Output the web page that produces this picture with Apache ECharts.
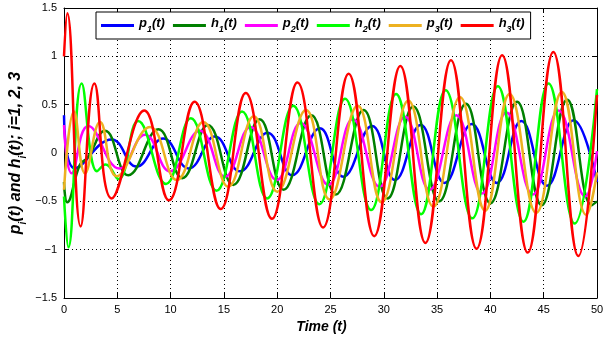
<!DOCTYPE html>
<html>
<head>
<meta charset="utf-8">
<script src="https://cdn.jsdelivr.net/npm/echarts@6/dist/echarts.min.js"></script>
<style>
  html, body { margin: 0; padding: 0; background: #fff; }
  #chart { width: 606px; height: 338px; }
</style>
</head>
<body>
<div id="chart"></div>
<script>
// values: [t, value] at peaks / troughs
const p1Data = [
  [0, 0.39], [1.03, -0.16], [4.47, 0.14], [6.8, -0.14], [9.3, 0.15], [11.7, -0.16],
  [14.16, 0.17], [16.5, -0.19], [19.1, 0.21], [21.4, -0.23], [24.0, 0.255], [26.2, -0.245],
  [28.9, 0.28], [31.05, -0.28], [33.46, 0.29], [35.7, -0.31], [38.25, 0.3], [40.6, -0.31],
  [42.9, 0.33], [45.3, -0.34], [47.8, 0.34], [50, -0.3]
];
const h1Data = [
  [0, -0.3], [0.3, -0.51], [1.5, -0.12], [2.2, -0.05], [3.85, 0.23], [6.03, -0.23],
  [8.85, 0.245], [11.1, -0.26], [13.5, 0.29], [15.88, -0.33], [18.35, 0.35], [20.6, -0.38],
  [23.2, 0.39], [25.5, -0.43], [28.1, 0.445], [30.35, -0.47], [32.77, 0.48], [35.2, -0.5],
  [37.7, 0.51], [40.0, -0.52], [42.5, 0.53], [44.8, -0.54], [47.2, 0.55], [49.5, -0.54], [50, -0.5]
];
const p2Data = [
  [0, 0.29], [0.72, -0.21], [2.28, 0.28], [5.2, -0.16], [7.6, 0.19], [9.95, -0.19],
  [12.75, 0.23], [15.1, -0.245], [17.5, 0.27], [19.95, -0.28], [22.2, 0.31], [24.8, -0.33],
  [27.1, 0.35], [29.6, -0.35], [32.0, 0.376], [34.3, -0.38], [36.8, 0.39], [39.2, -0.42],
  [41.5, 0.42], [43.97, -0.43], [46.4, 0.44], [48.9, -0.45], [50, 0.02]
];
const h2Data = [
  [0, -0.45], [0.41, -0.976], [1.66, 0.72], [3.1, -0.19], [3.9, -0.12], [5.1, -0.27],
  [6.95, 0.33], [9.57, -0.32], [11.9, 0.36], [14.3, -0.39], [16.7, 0.43], [19.05, -0.47],
  [21.5, 0.49], [23.95, -0.53], [26.36, 0.56], [28.8, -0.59], [31.15, 0.61], [33.5, -0.634],
  [35.8, 0.65], [38.3, -0.676], [40.7, 0.69], [43.1, -0.71], [45.45, 0.72], [47.9, -0.73], [50, 0.66]
];
const p3Data = [
  [0, -0.38], [0.94, 0.43], [1.97, -0.21], [3.38, 0.32], [4.94, -0.24], [8.07, 0.27],
  [10.57, -0.28], [13.07, 0.32], [15.4, -0.35], [17.8, 0.38], [20.0, -0.4], [22.7, 0.445],
  [24.9, -0.48], [27.55, 0.49], [29.8, -0.51], [32.3, 0.54], [34.65, -0.555], [37.15, 0.576],
  [39.5, -0.597], [41.8, 0.61], [44.3, -0.62], [46.7, 0.63], [49.0, -0.64], [50, -0.2]
];
const h3Data = [
  [0, 1.0], [0.31, 1.445], [1.56, -0.76], [2.85, 0.72], [4.47, -0.47], [7.53, 0.44],
  [9.85, -0.49], [12.25, 0.53], [14.7, -0.58], [17.05, 0.62], [19.5, -0.68], [21.9, 0.73],
  [24.3, -0.77], [26.7, 0.82], [29.1, -0.86], [31.55, 0.9], [33.9, -0.93], [36.3, 0.96],
  [38.7, -0.99], [41.1, 1.01], [43.5, -1.03], [45.9, 1.045], [48.25, -1.066], [50, 0.6]
];

const seriesNames = ['p1(t)', 'h1(t)', 'p2(t)', 'h2(t)', 'p3(t)', 'h3(t)'];
const seriesData = [p1Data, h1Data, p2Data, h2Data, p3Data, h3Data];
const seriesColors = ['#0000ff', '#008000', '#ff00ff', '#00ff00', '#edb120', '#ff0000'];

const font = 'Liberation Sans, Arial, sans-serif';
const minus = (v) => String(v).replace('-', '\u2212');

// subscript pieces for rich text
const richText = {
  b: { fontFamily: font, fontSize: 13, fontWeight: 'bold', fontStyle: 'italic', color: '#000', lineHeight: 17, verticalAlign: 'top' },
  s: { fontFamily: font, fontSize: 9, fontWeight: 'bold', fontStyle: 'italic', color: '#000', lineHeight: 9, verticalAlign: 'bottom' },
};
const richAxis = {
  b: { fontFamily: font, fontSize: 16, fontWeight: 'bold', fontStyle: 'italic', color: '#000', lineHeight: 20, verticalAlign: 'top' },
  s: { fontFamily: font, fontSize: 10, fontWeight: 'bold', fontStyle: 'italic', color: '#000', lineHeight: 10, verticalAlign: 'bottom' },
};

const chart = echarts.init(document.getElementById('chart'));

const dotted = { show: true, lineStyle: { color: '#000', type: [1, 3], width: 1 } };

chart.setOption({
  animation: false,
  backgroundColor: '#fff',
  grid: { left: 64, right: 9, top: 8, bottom: 40, outerBoundsMode: 'none', containLabel: false },
  legend: {
    left: 96,
    top: 12,
    padding: [5, 6, 5, 5],
    itemGap: 8,
    itemWidth: 33,
    itemHeight: 3,
    icon: 'rect',
    backgroundColor: '#fff',
    borderColor: '#000',
    borderWidth: 1,
    borderRadius: 0,
    data: seriesNames,
    formatter: (name) => '{b|' + name[0] + '}{s|' + name[1] + '}{b|(t)}',
    textStyle: { rich: richText, padding: [0, 0, 0, 0] },
  },
  xAxis: [
    {
      type: 'value', min: 0, max: 50, interval: 5,
      name: 'Time (t)', nameLocation: 'middle', nameGap: 18,
      nameTextStyle: { fontFamily: font, fontSize: 14, fontWeight: 'bold', fontStyle: 'italic', color: '#000', padding: [0, 18, 0, 0] },
      axisLine: { show: true, onZero: false, lineStyle: { color: '#000', width: 1 } },
      axisTick: { show: true, inside: true, length: 5, lineStyle: { color: '#000' } },
      axisLabel: { fontFamily: font, fontSize: 11, color: '#000', margin: 6 },
      splitLine: dotted,
    },
    {
      type: 'value', min: 0, max: 50, interval: 5, position: 'top',
      axisLine: { show: true, onZero: false, lineStyle: { color: '#000', width: 1 } },
      axisTick: { show: true, inside: true, length: 5, lineStyle: { color: '#000' } },
      axisLabel: { show: false },
      splitLine: { show: false },
    },
  ],
  yAxis: [
    {
      type: 'value', min: -1.5, max: 1.5, interval: 0.5,
      name: '{b|p}{s|i}{b|(t) and h}{s|i}{b|(t); i=1, 2, 3}',
      nameLocation: 'middle', nameGap: 36, nameRotate: 90, nameMoveOverlap: false,
      nameTextStyle: { rich: richAxis },
      axisLine: { show: true, onZero: false, lineStyle: { color: '#000', width: 1 } },
      axisTick: { show: true, inside: true, length: 5, lineStyle: { color: '#000' } },
      axisLabel: { fontFamily: font, fontSize: 11, color: '#000', margin: 7, formatter: minus },
      splitLine: dotted,
    },
    {
      type: 'value', min: -1.5, max: 1.5, interval: 0.5, position: 'right',
      axisLine: { show: true, onZero: false, lineStyle: { color: '#000', width: 1 } },
      axisTick: { show: true, inside: true, length: 5, lineStyle: { color: '#000' } },
      axisLabel: { show: false },
      splitLine: { show: false },
    },
  ],
  series: seriesNames.map((name, i) => ({
    name,
    type: 'line',
    data: seriesData[i],
    smooth: 0.45,
    showSymbol: false,
    symbol: 'none',
    clip: true,
    color: seriesColors[i],
    lineStyle: { color: seriesColors[i], width: 2.5 },
  })),
});
</script>
</body>
</html>
